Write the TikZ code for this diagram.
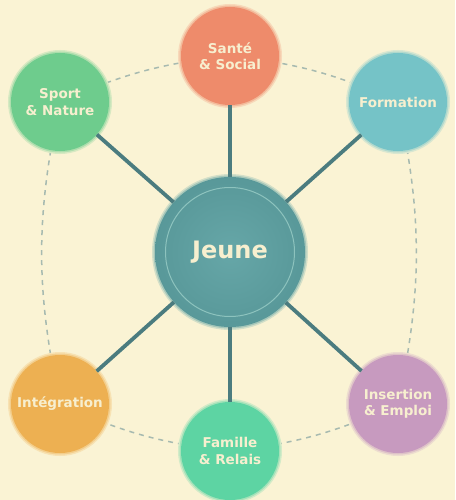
\documentclass[tikz,border=0pt]{standalone}
\usepackage{fontspec}
\setmainfont{DejaVu Sans}
\definecolor{bg}{HTML}{FAF3D4}
\definecolor{txt}{HTML}{F7EFCF}
\definecolor{sante}{HTML}{EE8B6B}
\definecolor{formation}{HTML}{75C3C7}
\definecolor{insertion}{HTML}{C79ABF}
\definecolor{famille}{HTML}{5DD4A3}
\definecolor{integration}{HTML}{EDB052}
\definecolor{sport}{HTML}{6ECC8D}
\definecolor{centerc}{HTML}{5EA2A3}
\definecolor{ringc}{HTML}{A7BAB0}
\definecolor{spokec}{HTML}{4B7C7F}
\definecolor{innerc}{HTML}{8DC3BE}
\begin{document}
\begin{tikzpicture}[x=1pt,y=-1pt,
  bubble/.style={circle,minimum size=98pt,inner sep=0pt,align=center,text=txt,
    fill=#1,preaction={draw=#1!25!bg,line width=6pt},preaction={draw=#1!55!bg,line width=3pt},
    font=\bfseries\fontsize{13.5}{16.5}\selectfont},
  hub/.style={circle,minimum size=150pt,inner sep=0pt,text=txt,
    inner color=centerc!95!white,outer color=centerc!94!black,
    preaction={draw=centerc!25!bg,line width=6pt},preaction={draw=centerc!55!bg,line width=3pt},
    font=\bfseries\fontsize{24}{28}\selectfont},
  spoke/.style={draw=spokec,line width=3.8pt},
  ringline/.style={draw=ringc,line width=1.5pt,dash pattern=on 5pt off 5pt},
  innerring/.style={draw=innerc,line width=1pt}]
\fill[bg] (0,0) rectangle (455,500);
\useasboundingbox (0,0) rectangle (455,500);
\coordinate (pS) at (230,56);
\coordinate (pF) at (398,102);
\coordinate (pI) at (398,404);
\coordinate (pR) at (230,451);
\coordinate (pG) at (60,404);
\coordinate (pN) at (60,102);
\draw[ringline] (pN) to[bend left=9] (pS) to[bend left=9] (pF) to[bend left=12] (pI)
  to[bend left=9] (pR) to[bend left=9] (pG) to[bend left=12] (pN);
\node[hub] (c) at (230,252) {};
\node[bubble=sante] (s) at (pS) {Santé\\\& Social};
\node[bubble=formation] (f) at (pF) {Formation};
\node[bubble=insertion] (i) at (pI) {Insertion\\\& Emploi};
\node[bubble=famille] (r) at (pR) {Famille\\\& Relais};
\node[bubble=integration] (g) at (pG) {Intégration};
\node[bubble=sport] (n) at (pN) {Sport\\\& Nature};
\foreach \t in {s,f,i,r,g,n} \draw[spoke] (c) -- (\t);
\draw[innerring] (c.center) circle (64.5);
\node[text=txt,font=\bfseries\fontsize{24}{28}\selectfont] (lbl) at (c.center) {Jeune};
\end{tikzpicture}
\end{document}
